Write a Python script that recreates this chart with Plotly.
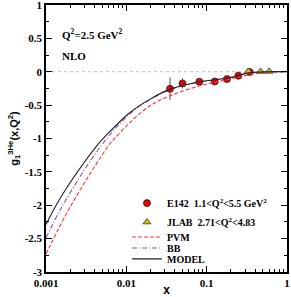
import plotly.graph_objects as go

# E142 data
e142_x = [0.035, 0.050, 0.081, 0.126, 0.179, 0.248, 0.344]
e142_y = [-0.255, -0.175, -0.15, -0.145, -0.11, -0.06, -0.005]
e142_err = [0.17, 0.075, 0.03, 0.02, 0.02, 0.02, 0.02]

# JLAB data
jlab_x = [0.33, 0.47, 0.60]
jlab_y = [0.005, 0.005, 0.005]
jlab_err = [0.01, 0.01, 0.01]

# Curves
model_x = [0.001, 0.00132, 0.002, 0.00428, 0.00553, 0.0111, 0.0197, 0.0351, 0.0829, 0.2, 0.347, 0.6, 1.0]
model_y = [-2.29, -2.01, -1.66, -1.11, -0.96, -0.61, -0.41, -0.26, -0.15, -0.085, -0.015, 0.0, 0.0]

bb_x = [0.001, 0.0016, 0.00484, 0.0111, 0.0197, 0.0351, 0.0829, 0.2, 0.347, 0.6, 1.0]
bb_y = [-2.49, -2.01, -1.11, -0.63, -0.42, -0.27, -0.15, -0.085, -0.015, 0.0, 0.0]

pvm_x = [0.001, 0.00203, 0.00597, 0.00703, 0.0111, 0.0197, 0.0351, 0.0829, 0.179, 0.26, 0.46, 1.0]
pvm_y = [-2.73, -2.01, -1.11, -1.01, -0.76, -0.51, -0.36, -0.21, -0.12, -0.075, -0.02, 0.0]

y_ticks = [1, 0.5, 0, -0.5, -1, -1.5, -2, -2.5, -3]
y_ticktext = ["1", "0.5", "0", "-0.5", "-1", "-1.5", "-2", "-2.5", "-3"]
x_ticks = [0.001, 0.01, 0.1, 1]
x_ticktext = ["0.001", "0.01", "0.1", "1"]

serif = "Liberation Serif"
sans = "Liberation Sans"

fig = go.Figure()

fig.add_trace(go.Scatter(
    x=e142_x, y=e142_y, mode="markers", legend="legend",
    name="<b>E142  1.1&lt;Q<sup>2</sup>&lt;5.5 GeV<sup>2</sup></b>",
    marker=dict(symbol="circle", size=7, color="#ee0000", line=dict(color="#222222", width=0.8)),
    error_y=dict(type="data", array=e142_err, color="#555555", thickness=1, width=0),
))
fig.add_trace(go.Scatter(
    x=jlab_x, y=jlab_y, mode="markers", legend="legend2",
    name="<b>JLAB  2.71&lt;Q<sup>2</sup>&lt;4.83</b>",
    marker=dict(symbol="triangle-up", size=7, color="#c8c800", line=dict(color="#333333", width=0.8)),
    error_y=dict(type="data", array=jlab_err, color="#555555", thickness=1, width=0),
))
fig.add_trace(go.Scatter(
    x=pvm_x, y=pvm_y, mode="lines", name="<b>PVM</b>", legend="legend3",
    line=dict(color="#ff3333", width=1.1, dash="4px,2px", shape="spline"),
))
fig.add_trace(go.Scatter(
    x=bb_x, y=bb_y, mode="lines", name="<b>BB</b>", legend="legend4",
    line=dict(color="#a050a0", width=1.1, dash="5px,2px,1px,2px", shape="spline"),
))
fig.add_trace(go.Scatter(
    x=model_x, y=model_y, mode="lines", name="<b>MODEL</b>", legend="legend5",
    line=dict(color="#222222", width=1.1, shape="spline"),
))

fig.add_shape(type="line", xref="paper", x0=0, x1=1, yref="y", y0=0, y1=0,
              line=dict(color="#bbbbbb", width=1, dash="dot"), layer="below")


def leg(ypos):
    return dict(
        x=0.336, y=ypos, xanchor="left", yanchor="middle",
        bgcolor="rgba(0,0,0,0)", borderwidth=0,
        font=dict(family=serif, size=10, color="black"),
        itemwidth=30,
    )


fig.update_layout(
    width=291, height=297,
    margin=dict(l=46, r=4, t=5, b=25),
    paper_bgcolor="white", plot_bgcolor="white",
    showlegend=True,
    legend=leg(0.258),
    legend2=leg(0.187),
    legend3=leg(0.131),
    legend4=leg(0.090),
    legend5=leg(0.049),
    annotations=[
        dict(text="<b>Q<sup>2</sup>=2.5 GeV<sup>2</sup></b>", xref="paper", yref="paper",
             x=0.06, y=0.89, xanchor="left", yanchor="middle", showarrow=False,
             font=dict(family=serif, size=11, color="black")),
        dict(text="<b>NLO</b>", xref="paper", yref="paper",
             x=0.06, y=0.81, xanchor="left", yanchor="middle", showarrow=False,
             font=dict(family=serif, size=11, color="black")),
    ],
)

fig.update_xaxes(
    type="log", range=[-3, 0],
    tickmode="array", tickvals=x_ticks, ticktext=x_ticktext,
    ticks="inside", ticklen=6, tickwidth=1, tickcolor="black",
    minor=dict(ticks="inside", ticklen=3, tickcolor="black", dtick="D1", showgrid=False),
    showline=True, linecolor="black", linewidth=1.5, mirror="ticks",
    showgrid=False, zeroline=False,
    tickfont=dict(family=serif, size=11, color="black", weight="bold"),
    ticklabeloverflow="allow",
    title=dict(text="<b>x</b>", font=dict(family=sans, size=12, color="black"), standoff=2),
    automargin=False,
)
fig.update_yaxes(
    range=[-3, 1],
    tickmode="array", tickvals=y_ticks, ticktext=y_ticktext,
    ticks="inside", ticklen=6, tickwidth=1, tickcolor="black",
    minor=dict(ticks="inside", ticklen=3, tickcolor="black", dtick=0.25, showgrid=False),
    showline=True, linecolor="black", linewidth=1.5, mirror="ticks",
    showgrid=False, zeroline=False,
    tickfont=dict(family=serif, size=11, color="black", weight="bold"),
    ticklabeloverflow="allow",
    title=dict(text="<b>g<sub>1</sub><sup>3He</sup>(x,Q<sup>2</sup>)</b>",
               font=dict(family=sans, size=11, color="black"), standoff=4),
    automargin=False,
)

fig.write_html("out.html", config={"displayModeBar": False})

# remove the default page margin so the figure sits at the window's corner
with open("out.html", "r", encoding="utf-8") as f:
    html = f.read()
html = html.replace("<head>", "<head><style>html,body{margin:0;padding:0;overflow:hidden;}</style>", 1)
with open("out.html", "w", encoding="utf-8") as f:
    f.write(html)
